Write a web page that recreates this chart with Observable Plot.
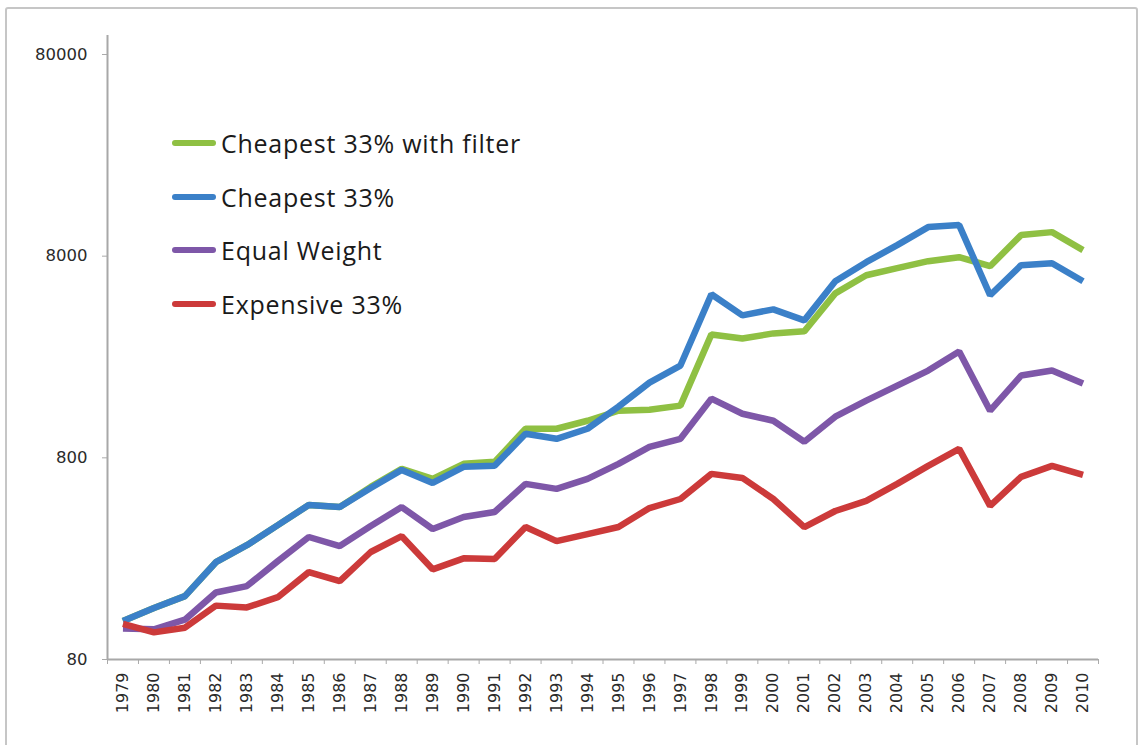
<!DOCTYPE html>
<html>
<head>
<meta charset="utf-8">
<script src="https://cdn.jsdelivr.net/npm/d3@7"></script>
<script src="https://cdn.jsdelivr.net/npm/@observablehq/plot@0.6"></script>
<style>
  html, body { margin: 0; padding: 0; background: #fff; }
  #wrap { position: relative; width: 1144px; height: 745px; overflow: hidden; }
  #frame { position: absolute; left: 5px; top: 7px; width: 1133px; height: 780px;
           border: 2px solid #c6c6c6; border-radius: 3px; box-sizing: border-box; }
  #chart { position: absolute; left: 0; top: 0; }
  #legend { position: absolute; left: 172px; top: 124px; font-family: "Open Sans", sans-serif;
            font-size: 25px; letter-spacing: 0.75px; color: #1a1a1a; }
  .item { display: flex; align-items: center; height: 38px; margin-bottom: 15.5px; }
  .sw { width: 44px; height: 6px; border-radius: 3px; margin-right: 5px; }
</style>
</head>
<body>
<div id="wrap">
  <div id="frame"></div>
  <div id="chart"></div>
  <div id="legend"></div>
</div>
<script>
const years = [1979,1980,1981,1982,1983,1984,1985,1986,1987,1988,1989,1990,1991,1992,1993,1994,
               1995,1996,1997,1998,1999,2000,2001,2002,2003,2004,2005,2006,2007,2008,2009,2010];
const seriesNames = ["Cheapest 33% with filter", "Cheapest 33%", "Equal Weight", "Expensive 33%"];
const seriesColors = ["#8fc043", "#3b80c8", "#7e57a8", "#cc3a3a"];
const cheapestFilter = [124,144,165,243,295,371,467,456,574,705,629,747,764,1115,1115,1222,
                        1370,1386,1452,3274,3126,3312,3390,5234,6435,6973,7554,7909,7134,10176,10528,8568];
const cheapest = [124,144,165,243,295,371,467,456,567,697,601,722,730,1053,994,1115,
                  1435,1889,2295,5176,4070,4360,3843,6008,7472,9072,11152,11408,5118,7216,7384,6008];
const equalWeight = [114,113,126,172,185,246,324,292,367,456,355,407,431,594,561,629,
                     747,907,994,1573,1324,1222,961,1280,1537,1825,2167,2694,1370,2047,2167,1867];
const expensive = [120,109,115,148,145,163,217,196,273,327,224,254,252,363,309,335,
                   363,451,500,666,636,500,363,436,489,594,730,886,462,644,730,658];
const yTicks = [80, 800, 8000, 80000];
const yTickLabels = ["80", "800", "8000", "80000"];

const allSeries = [cheapestFilter, cheapest, equalWeight, expensive];
const data = [];
allSeries.forEach((vals, i) => {
  vals.forEach((v, j) => data.push({series: seriesNames[i], year: years[j], value: v}));
});
const yTickData = yTicks.map((v, i) => ({value: v, label: yTickLabels[i]}));
const half = 0.5;
const boundaries = years.map(y => y - half).concat([years[years.length - 1] + half]);

const plot = Plot.plot({
  width: 1144,
  height: 745,
  marginLeft: 107,
  marginRight: 46,
  marginTop: 35,
  marginBottom: 86,
  style: {fontFamily: "DejaVu Sans, sans-serif", color: "#2a2a2a", background: "transparent", overflow: "visible"},
  x: {type: "linear", domain: [years[0] - half, years[years.length - 1] + half]},
  y: {type: "log", domain: [yTicks[0], yTicks[yTicks.length - 1]], range: [659, 54]},
  color: {domain: seriesNames, range: seriesColors},
  marks: [
    Plot.axisY({ticks: yTicks, tickFormat: () => "", tickSize: 5, stroke: "#aaa", label: null}),
    Plot.text(yTickData, {y: "value", text: "label", frameAnchor: "left", textAnchor: "end",
                          dx: -20, fontSize: 16.5, fill: "#2a2a2a"}),
    Plot.axisX({ticks: years, tickFormat: d => String(d), tickSize: 0, tickPadding: 13,
                tickRotate: -90, fontSize: 16, label: null}),
    Plot.axisX({ticks: boundaries, tickFormat: () => "", tickSize: 5, stroke: "#aaa", label: null}),
    Plot.ruleX([years[0] - half], {stroke: "#a8a8a8", strokeWidth: 2}),
    Plot.ruleY([yTicks[0]], {stroke: "#a8a8a8", strokeWidth: 2}),
    Plot.lineY(data, {x: "year", y: "value", z: "series", stroke: "series",
                      strokeWidth: 6.5, strokeLinejoin: "miter", strokeLinecap: "butt"})
  ]
});
document.getElementById("chart").appendChild(plot);

const legend = document.getElementById("legend");
seriesNames.forEach((name, i) => {
  const item = document.createElement("div");
  item.className = "item";
  const sw = document.createElement("div");
  sw.className = "sw";
  sw.style.background = seriesColors[i];
  const label = document.createElement("span");
  label.textContent = name;
  item.appendChild(sw);
  item.appendChild(label);
  legend.appendChild(item);
});
</script>
</body>
</html>
